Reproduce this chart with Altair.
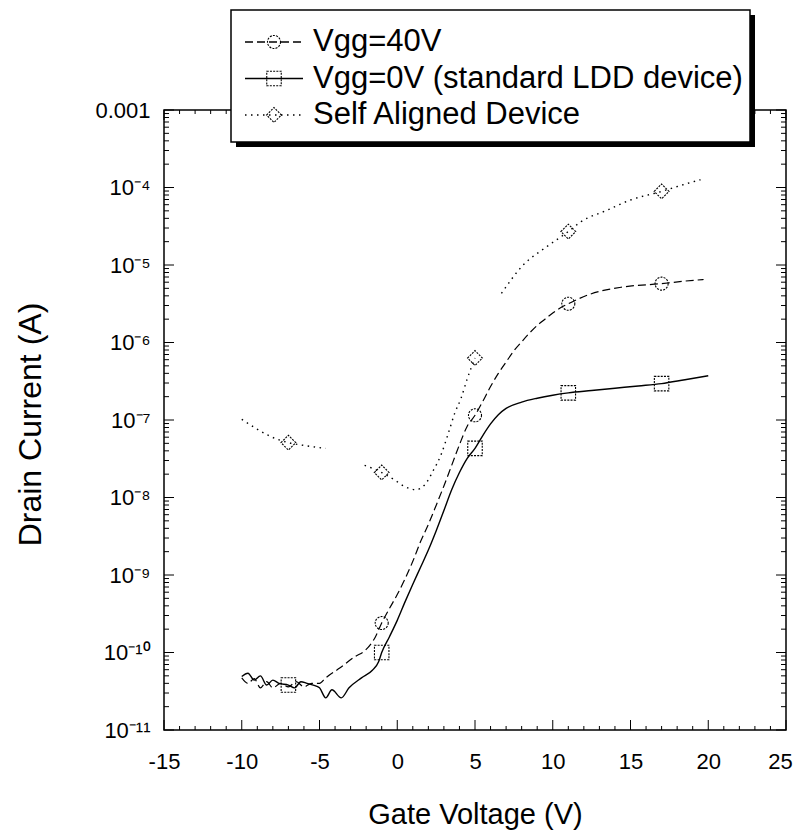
import altair as alt
import pandas as pd

SERIES = ["Vgg=40V", "Vgg=0V (standard LDD device)", "Self Aligned Device"]

# ---- Vgg=40V (dashed, circles) ----
v40_x = [-10.0, -9.6, -9.2, -8.8, -8.4, -8.0, -7.5, -7.0, -6.5, -6.0, -5.5, -5.0, -4.6, -3.7, -2.7,
         -2.1, -1.4, -1.0, -0.5, 0.0, 0.5, 1.0, 1.5, 2.0, 2.5, 3.0, 3.5, 4.0, 4.5, 5.0, 5.5, 6.0,
         6.5, 7.0, 7.5, 8.0, 8.5, 9.0, 9.5, 10.0, 10.5, 11.0, 12.4, 14.5, 17.0, 18.5, 19.7]
v40_i = [4.7e-11, 4.0e-11, 4.6e-11, 3.5e-11, 4.2e-11, 3.5e-11, 4.0e-11, 3.6e-11, 4.2e-11, 3.6e-11,
         4.0e-11, 4.0e-11, 4.7e-11, 6.3e-11, 8.9e-11, 1.05e-10, 1.6e-10, 2.4e-10, 3.7e-10, 5.6e-10,
         8.9e-10, 1.5e-9, 2.7e-9, 4.5e-9, 7.9e-9, 1.41e-8, 2.6e-8, 4.8e-8, 8.3e-8, 1.15e-7, 1.74e-7,
         2.7e-7, 4.0e-7, 5.6e-7, 7.8e-7, 1.02e-6, 1.32e-6, 1.66e-6, 2.0e-6, 2.4e-6, 2.8e-6, 3.16e-6,
         4.2e-6, 5.2e-6, 5.75e-6, 6.2e-6, 6.5e-6]

# ---- Vgg=0V (solid, squares) ----
v0_x = [-10.0, -9.6, -9.2, -8.8, -8.4, -8.0, -7.6, -7.0, -6.6, -6.2, -5.8, -5.4, -5.0, -4.6, -4.2,
        -3.6, -3.1, -2.3, -1.6, -1.2, -1.0, -0.5, 0.0, 0.5, 1.0, 1.5, 2.0, 2.5, 3.0, 3.5, 4.0, 4.5,
        5.0, 5.5, 6.0, 6.5, 7.0, 8.0, 9.0, 10.0, 11.0, 12.5, 14.0, 15.5, 17.0, 18.5, 20.0]
v0_i = [4.9e-11, 5.4e-11, 4.4e-11, 5.0e-11, 3.8e-11, 4.4e-11, 4.0e-11, 3.8e-11, 3.5e-11, 4.2e-11,
        4.0e-11, 3.8e-11, 3.5e-11, 2.6e-11, 3.3e-11, 2.6e-11, 3.5e-11, 4.7e-11, 5.9e-11, 7.6e-11,
        1.0e-10, 1.6e-10, 2.6e-10, 4.5e-10, 7.6e-10, 1.26e-9, 2.1e-9, 3.7e-9, 6.8e-9, 1.26e-8, 2.1e-8,
        3.2e-8, 4.3e-8, 6.3e-8, 8.9e-8, 1.17e-7, 1.41e-7, 1.70e-7, 1.91e-7, 2.09e-7, 2.24e-7, 2.40e-7,
        2.57e-7, 2.75e-7, 2.95e-7, 3.31e-7, 3.72e-7]

# ---- Self aligned device (dotted, diamonds), drawn in three pieces ----
sa_x = [-10.0, -9.0, -8.2, -7.0, -6.0, -5.0, -4.6,
        -2.1, -1.0, -0.2, 0.5, 1.2, 1.8, 2.3, 2.8, 3.3, 3.7, 4.1, 4.5, 5.0,
        6.7, 8.1, 9.5, 11.0, 11.8, 13.5, 15.0, 17.0, 17.8, 18.8, 19.5]
sa_i = [1.02e-7, 7.6e-8, 6.2e-8, 5.1e-8, 4.7e-8, 4.4e-8, 4.3e-8,
        2.6e-8, 2.1e-8, 1.7e-8, 1.38e-8, 1.26e-8, 1.48e-8, 2.2e-8, 3.5e-8, 6.9e-8, 1.23e-7, 1.9e-7,
        3.4e-7, 6.3e-7,
        4.3e-6, 1.0e-5, 1.66e-5, 2.7e-5, 3.6e-5, 5.1e-5, 6.9e-5, 8.9e-5, 1.0e-4, 1.15e-4, 1.26e-4]
sa_seg = [0] * 7 + [1] * 13 + [2] * 11

# ---- markers ----
mk40_x = [-1, 5, 11, 17]
mk40_i = [2.4e-10, 1.15e-7, 3.16e-6, 5.75e-6]
mk0_x = [-7, -1, 5, 11, 17]
mk0_i = [3.8e-11, 1.0e-10, 4.3e-8, 2.24e-7, 2.95e-7]
mksa_x = [-7, -1, 5, 11, 17]
mksa_i = [5.1e-8, 2.1e-8, 6.3e-7, 2.7e-5, 8.9e-5]

# ---- axes ----
x_tick_values = [-15, -10, -5, 0, 5, 10, 15, 20, 25]
x_minor_values = [v for v in range(-15, 26) if v % 5 != 0]
y_tick_values = [1e-11, 1e-10, 1e-9, 1e-8, 1e-7, 1e-6, 1e-5, 1e-4, 1e-3]
y_tick_labels = ["10\u207b\u00b9\u00b9", "10\u207b\u00b9\u2070", "10\u207b\u2079", "10\u207b\u2078",
                 "10\u207b\u2077", "10\u207b\u2076", "10\u207b\u2075", "10\u207b\u2074", "0.001"]
y_minor_values = [m * d for d in y_tick_values[:-1] for m in range(2, 10)]

W, H = 622, 620
FONT = "Liberation Sans"

xs = alt.Scale(domain=[-15, 25], nice=False, zero=False)
ys = alt.Scale(type="log", domain=[1e-11, 1e-3], nice=False)

ylab_expr = " : ".join(
    f"datum.value < {v * 1.5:.4e} ? '{lab}'" for v, lab in zip(y_tick_values, y_tick_labels)
) + " : ''"

xaxis = alt.Axis(values=x_tick_values, labelExpr="'' + datum.value", ticks=False, tickSize=0,
                 domain=False, grid=False, labelFont=FONT, labelFontSize=22, labelColor="black",
                 labelPadding=21, labelFlush=False, labelOverlap=False,
                 labelOffset={"expr": "datum.value == 25 ? -6 : 0"},
                 title="Gate Voltage (V)", titleFont=FONT, titleFontSize=29,
                 titleFontWeight="normal", titleColor="black", titleX=W / 2, titleY=84,
                 titleBaseline="middle", titleAlign="center")
yaxis = alt.Axis(values=y_tick_values, labelExpr=ylab_expr, ticks=False, tickSize=0,
                 domain=False, grid=False, labelFont=FONT, labelFontSize=22, labelColor="black",
                 labelPadding=14, labelFlush=False, labelOverlap=False,
                 title="Drain Current (A)", titleFont=FONT, titleFontSize=32,
                 titleFontWeight="normal", titleColor="black", titleX=-134, titleY=H / 2 + 4,
                 titleAngle=270, titleBaseline="middle", titleAlign="center")

df40 = pd.DataFrame({"V": v40_x, "I": v40_i})
df0 = pd.DataFrame({"V": v0_x, "I": v0_i})
dfsa = pd.DataFrame({"V": sa_x, "I": sa_i, "seg": sa_seg})

DASH40 = [8, 4]
DASHSA = [1.5, 4.5]

line0 = alt.Chart(df0).mark_line(color="black", strokeWidth=1.4, interpolate="monotone").encode(
    x=alt.X("V:Q", scale=xs, axis=xaxis), y=alt.Y("I:Q", scale=ys, axis=yaxis))
line40 = alt.Chart(df40).mark_line(color="black", strokeWidth=1.2, strokeDash=DASH40,
                                   interpolate="monotone").encode(
    x=alt.X("V:Q", scale=xs, axis=None), y=alt.Y("I:Q", scale=ys, axis=None))
linesa = alt.Chart(dfsa).mark_line(color="black", strokeWidth=1.4, strokeDash=DASHSA,
                                   interpolate="monotone").encode(
    x=alt.X("V:Q", scale=xs, axis=None), y=alt.Y("I:Q", scale=ys, axis=None), detail="seg:N")


def markers(xv, iv, shape, size):
    d = pd.DataFrame({"V": xv, "I": iv})
    return alt.Chart(d).mark_point(shape=shape, size=size, filled=False, color="black",
                                   strokeWidth=1.1, strokeDash=[2, 1.2], opacity=1).encode(
        x=alt.X("V:Q", scale=xs, axis=None), y=alt.Y("I:Q", scale=ys, axis=None))


pts40 = markers(mk40_x, mk40_i, "circle", 170)
pts0 = markers(mk0_x, mk0_i, "square", 210)
ptssa = markers(mksa_x, mksa_i, "diamond", 220)


def yticks(vals, length):
    d = pd.DataFrame({"t": vals})
    left = alt.Chart(d).mark_rule(color="black", strokeWidth=1).encode(
        y=alt.Y("t:Q", scale=ys, axis=None), x=alt.value(0), x2=alt.value(length))
    right = alt.Chart(d).mark_rule(color="black", strokeWidth=1).encode(
        y=alt.Y("t:Q", scale=ys, axis=None), x=alt.value(W - length), x2=alt.value(W))
    return [left, right]


def xticks(vals, length):
    d = pd.DataFrame({"t": vals})
    bottom = alt.Chart(d).mark_rule(color="black", strokeWidth=1).encode(
        x=alt.X("t:Q", scale=xs, axis=None), y=alt.value(H - length), y2=alt.value(H))
    top = alt.Chart(d).mark_rule(color="black", strokeWidth=1).encode(
        x=alt.X("t:Q", scale=xs, axis=None), y=alt.value(0), y2=alt.value(length))
    return [bottom, top]


tick_layers = (yticks(y_tick_values, 10) + yticks(y_minor_values, 5)
               + xticks(x_tick_values, 10) + xticks(x_minor_values, 4))

# ---- legend box (with drop shadow) ----
one = pd.DataFrame({"k": [0]})
shadow = alt.Chart(one).mark_rect(color="black").encode(
    x=alt.value(72), x2=alt.value(591), y=alt.value(-95), y2=alt.value(37))
box = alt.Chart(one).mark_rect(fill="white", stroke="black", strokeWidth=1.5).encode(
    x=alt.value(67), x2=alt.value(586), y=alt.value(-100), y2=alt.value(32))

legend_layers = [shadow, box]
styles = [(DASH40, "circle", 170), ([1, 0], "square", 210), (DASHSA, "diamond", 220)]
for i, (name, (dash, shape, size)) in enumerate(zip(SERIES, styles)):
    ypix = -68 + 36.5 * i
    legend_layers.append(alt.Chart(one).mark_rule(color="black", strokeWidth=1.3,
                                                  strokeDash=dash).encode(
        x=alt.value(81), x2=alt.value(139), y=alt.value(ypix)))
    legend_layers.append(alt.Chart(one).mark_point(shape=shape, size=size, filled=False,
                                                   color="black", strokeWidth=1.1,
                                                   strokeDash=[2, 1.2], opacity=1).encode(
        x=alt.value(110), y=alt.value(ypix)))
    legend_layers.append(alt.Chart(one).mark_text(align="left", baseline="middle", font=FONT,
                                                  fontSize=31, color="black").encode(
        x=alt.value(149), y=alt.value(ypix), text=alt.value(name)))

chart = alt.layer(line0, line40, linesa, pts40, pts0, ptssa, *tick_layers, *legend_layers).resolve_axis(
    x="independent", y="independent"
).properties(
    width=W, height=H,
    autosize=alt.AutoSizeParams(type="none"),
    padding={"left": 156, "top": 102, "right": 7, "bottom": 100},
    background="white",
).configure_view(stroke="black", strokeWidth=1.5)

chart.save("out.html", embed_options={"renderer": "svg", "actions": False})
